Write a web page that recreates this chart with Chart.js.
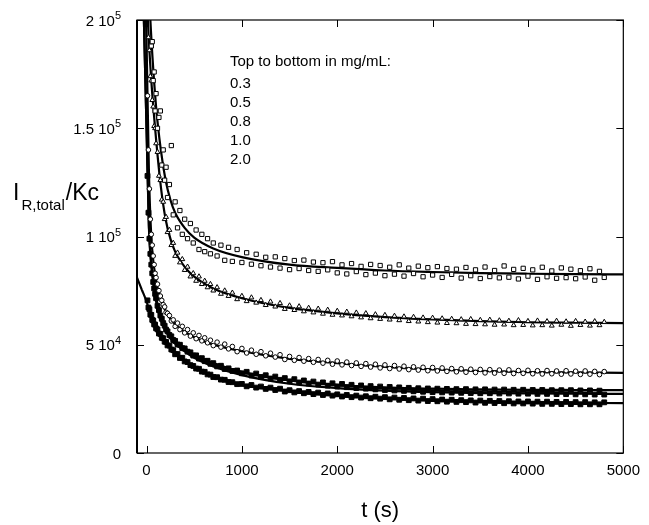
<!DOCTYPE html>
<html>
<head>
<meta charset="utf-8">
<script src="https://cdn.jsdelivr.net/npm/chart.js@4.4.1/dist/chart.umd.min.js"></script>
<style>
  body { margin: 0; background: #fff; }
  #wrap { width: 649px; height: 525px; position: relative; }
</style>
</head>
<body>
<div id="wrap"><canvas id="chart"></canvas></div>
<script>
// values are in units of 1000 (I_R,total/Kc), times in seconds
const xTicks = [0, 1000, 2000, 3000, 4000, 5000];
const yTicks = [0, 50, 100, 150, 200];
// tick label = mantissa + "10" + exponent (exponent drawn raised)
const yTickBase = ['0', '5 10', '1 10', '1.5 10', '2 10'];
const yTickExp = ['', '4', '5', '5', '5'];
const legendLines = ['Top to bottom in mg/mL:', '0.3', '0.5', '0.8', '1.0', '2.0'];

// measurement times shared by all five series
const times = [10, 20, 30, 40, 50, 60, 70, 80, 90, 100, 115, 130, 145, 160, 175, 190, 205, 220,
  240, 260, 280, 300, 325, 350, 375, 400, 430, 460, 490, 520, 550, 580, 610, 640, 670, 700,
  740, 780, 820, 860, 900, 950, 1000,
  1050, 1100, 1150, 1200, 1250, 1300, 1350, 1400, 1450, 1500, 1550, 1600, 1650, 1700, 1750, 1800, 1850, 1900, 1950, 2000,
  2050, 2100, 2150, 2200, 2250, 2300, 2350, 2400, 2450, 2500,
  2550, 2600, 2650, 2700, 2750, 2800, 2850, 2900, 2950, 3000,
  3050, 3100, 3150, 3200, 3250, 3300, 3350, 3400, 3450, 3500,
  3550, 3600, 3650, 3700, 3750, 3800, 3850, 3900, 3950, 4000,
  4050, 4100, 4150, 4200, 4250, 4300, 4350, 4400, 4450, 4500,
  4550, 4600, 4650, 4700, 4750, 4800];

const c03 = [240, 228, 205, 203, 188, 190, 172, 176, 158, 166, 150, 155, 158, 133, 140, 126, 132, 118,
  124, 142, 110, 116, 104, 112, 101, 108, 99, 106, 97, 103, 94, 101, 93, 99, 92, 97,
  91, 96, 89, 95, 88.5, 94, 88,
  92.5, 87.2, 91.8, 86.5, 90.4, 85.9, 90.6, 85.4, 89.8, 84.7, 88.9, 85.2, 89.1, 84.3, 88.2, 83.9, 87.9, 84.6, 88.4, 83.2,
  86.9, 82.7, 87.5, 83.8, 86.2, 82.4, 87.1, 83.1, 86.6, 81.9,
  85.8, 82.6, 86.9, 81.7, 85.4, 82.9, 86.3, 81.4, 85.6, 82.2,
  86.1, 81.1, 85.2, 82.5, 84.9, 80.8, 85.7, 81.9, 84.6, 80.6,
  85.9, 81.5, 84.3, 80.9, 86.4, 81.2, 84.8, 80.4, 85.3, 81.7,
  84.6, 80.2, 85.8, 81.4, 84.1, 80.7, 85.5, 81.0, 84.9, 80.5,
  84.2, 81.3, 85.1, 79.8, 83.9, 81.1];

const c05 = [208, 192, 186, 174, 172, 163, 160, 151, 150, 143, 139, 128, 126, 117, 116, 108, 109, 102,
  103, 96, 97, 91, 92.5, 88, 89.5, 84.5, 86, 81.5, 83, 79.5, 81.5, 78, 79.5, 76.5, 78, 75,
  76.5, 73.5, 75, 72.5, 74, 71, 72.5,
  70.1, 71.8, 69.4, 70.6, 68.3, 69.9, 67.6, 69.2, 66.5, 68.1, 66.0, 67.7, 65.4, 67.0, 64.9, 66.6, 64.3, 66.1, 63.8, 65.6,
  63.5, 65.2, 63.1, 64.8, 62.6, 64.5, 62.2, 64.0, 61.9, 63.7,
  61.6, 63.3, 61.3, 63.0, 60.9, 62.8, 60.7, 62.5, 60.4, 62.4,
  60.2, 62.1, 60.0, 61.9, 59.9, 61.7, 59.6, 61.8, 59.5, 61.4,
  59.4, 61.5, 59.2, 61.2, 59.3, 61.0, 59.0, 61.3, 59.1, 60.9,
  58.9, 61.1, 59.0, 60.8, 58.8, 61.0, 59.2, 60.7, 58.7, 60.9,
  59.1, 60.6, 58.8, 60.8, 59.0, 60.5];

const c08 = [165, 140, 122, 108, 101, 96, 91, 87, 83, 81, 78, 75, 72.5, 70.5, 68.5, 67.5, 65, 64.5,
  63.5, 61, 61.5, 58.5, 60, 57, 58.5, 55.5, 57, 54, 55.5, 52.8, 54.3, 51.8, 53.2, 50.9, 52.1, 49.6,
  51.2, 48.9, 50.3, 48.1, 49.2, 46.8, 48.3,
  46.2, 47.5, 45.6, 46.8, 44.9, 46.1, 44.3, 45.4, 43.2, 44.6, 42.8, 44.1, 42.4, 43.6, 41.9, 43.2, 41.5, 42.8, 41.0, 42.5,
  40.7, 42.0, 40.4, 41.6, 40.0, 41.3, 39.7, 41.0, 39.3, 40.7,
  39.0, 40.4, 38.8, 40.1, 38.5, 39.8, 38.3, 39.6, 38.0, 39.5,
  37.9, 39.3, 37.7, 39.0, 37.5, 38.9, 37.3, 38.7, 37.2, 38.6,
  37.0, 38.5, 36.9, 38.3, 36.8, 38.4, 36.7, 38.1, 36.8, 38.2,
  36.6, 38.0, 36.5, 38.1, 36.6, 37.9, 36.4, 38.0, 36.5, 37.8,
  36.3, 37.9, 36.4, 37.7, 36.2, 37.6];

const c10 = [128, 111, 99, 92, 87, 83, 79, 76, 73.5, 71.5, 68, 66, 63.5, 62, 60, 58.8, 57, 56.2,
  54.5, 53.9, 52.2, 51.8, 50.1, 50.0, 48.4, 48.3, 46.8, 46.5, 45.0, 45.1, 43.6, 43.8, 42.4, 42.6, 41.2, 41.5,
  40.0, 40.3, 38.8, 39.1, 37.9, 38.1, 36.8,
  37.5, 35.8, 36.7, 35.1, 35.9, 34.4, 35.3, 33.8, 34.6, 33.1, 34.1, 32.6, 33.5, 32.1, 33.0, 31.6, 32.6, 31.1, 32.2, 30.7,
  31.9, 30.4, 31.5, 30.0, 31.2, 29.7, 30.9, 29.4, 30.7, 29.1,
  30.5, 28.9, 30.3, 28.7, 30.1, 28.5, 29.9, 28.3, 29.8, 28.1,
  29.7, 28.0, 29.6, 27.9, 29.5, 27.8, 29.5, 27.7, 29.4, 27.6,
  29.4, 27.6, 29.3, 27.5, 29.3, 27.5, 29.2, 27.4, 29.2, 27.4,
  29.1, 27.3, 29.1, 27.3, 29.0, 27.2, 29.0, 27.2, 29.0, 27.1,
  28.9, 27.1, 28.9, 27.0, 28.8, 27.0];

const c20 = [70.5, 67.2, 66.4, 63.9, 63.8, 61.5, 61.2, 59.4, 59.3, 57.6, 57.1, 55.2, 55.0, 53.2, 53.0, 51.4, 51.3, 49.7,
  49.6, 47.8, 47.5, 45.6, 45.7, 43.9, 44.0, 42.3, 42.0, 40.6, 40.2, 39.0, 38.9, 37.6, 37.5, 36.3, 36.2, 35.1,
  35.0, 33.9, 33.8, 32.8, 32.7, 31.8, 31.9,
  30.8, 31.4, 30.2, 30.7, 29.6, 30.2, 29.1, 29.7, 28.4, 29.0, 28.0, 28.6, 27.6, 28.2, 27.2, 27.9, 26.8, 27.5, 26.5, 27.1,
  26.1, 26.8, 25.8, 26.5, 25.6, 26.2, 25.3, 26.0, 25.1, 25.8,
  24.8, 25.6, 24.6, 25.4, 24.4, 25.2, 24.2, 25.1, 24.0, 24.9,
  23.9, 24.7, 23.7, 24.6, 23.6, 24.4, 23.5, 24.3, 23.3, 24.2,
  23.2, 24.1, 23.1, 24.0, 23.0, 23.9, 22.9, 23.8, 22.9, 23.8,
  22.8, 23.7, 22.7, 23.7, 22.7, 23.6, 22.6, 23.6, 22.6, 23.5,
  22.5, 23.5, 22.5, 23.4, 22.5, 23.4];

// fitted curves, read at these times
const fitTimes = [-100, -50, 0, 25, 50, 100, 150, 200, 250, 300, 400, 500, 700, 1000, 1500, 2000, 2500, 3000, 3500, 4000, 4500, 5000];
const fit03 = [500, 350, 250, 215, 192, 160, 140, 126, 117, 111, 104, 99.5, 94.5, 90.5, 87, 85.5, 84.3, 83.6, 83.1, 82.8, 82.6, 82.5];
const fit05 = [420, 300, 215, 190, 172, 145, 123, 108, 99, 93, 86, 81.5, 76, 71.5, 67, 64.5, 62.8, 61.7, 60.9, 60.4, 60.2, 60];
const fit08 = [380, 270, 190, 130, 100, 80, 71, 65.5, 62, 59.5, 56, 53.5, 50, 47, 43.5, 41.5, 39.8, 38.6, 37.9, 37.4, 37.2, 37];
const fit10a = [330, 240, 150, 105, 88, 72, 63, 58, 54.5, 52, 48.5, 45.5, 41.5, 37.5, 33.5, 31.5, 30.3, 29.7, 29.4, 29.2, 29.1, 29];
const fit10b = [330, 240, 150, 104, 86, 70, 61.5, 56.5, 53, 50.5, 47, 44, 40, 36, 32, 30, 28.8, 28.1, 27.7, 27.5, 27.4, 27.3];
const fit20 = [81, 75.5, 70, 66.5, 63.5, 58.5, 54.5, 51.5, 48.5, 46, 42.5, 39.5, 35.5, 31.5, 28.5, 26.5, 25.2, 24.3, 23.8, 23.4, 23.2, 23];

const FONT = '"Liberation Sans", Arial, sans-serif';

function points(vals) {
  return times.map((t, i) => ({ x: t, y: vals[i] }));
}

function scatterSet(vals, style, radius, fill) {
  return {
    data: points(vals),
    pointStyle: style,
    pointRadius: radius,
    borderWidth: 1,
    borderColor: '#000',
    backgroundColor: fill,
    showLine: false
  };
}

function fitSet(vals) {
  return {
    data: fitTimes.map((t, i) => ({ x: t, y: vals[i] })),
    showLine: true,
    pointRadius: 0,
    borderColor: '#000',
    borderWidth: 2.2,
    cubicInterpolationMode: 'monotone',
    fill: false
  };
}

// box, inward ticks, y tick labels with exponents and the free text
const decorations = {
  id: 'decorations',
  afterDraw(chart) {
    const { ctx, chartArea: a, scales } = chart;
    ctx.save();
    ctx.strokeStyle = '#000';
    ctx.lineWidth = 1.2;
    ctx.strokeRect(a.left, a.top, a.right - a.left, a.bottom - a.top);
    ctx.lineWidth = 2;
    ctx.beginPath();
    ctx.moveTo(a.left, a.top);
    ctx.lineTo(a.left, a.bottom);
    ctx.stroke();

    ctx.lineWidth = 1;
    ctx.beginPath();
    for (const v of xTicks) {
      const px = Math.round(scales.x.getPixelForValue(v)) + 0.5;
      ctx.moveTo(px, a.bottom); ctx.lineTo(px, a.bottom - 7);
      ctx.moveTo(px, a.top); ctx.lineTo(px, a.top + 7);
    }
    for (const v of yTicks) {
      const py = Math.round(scales.y.getPixelForValue(v)) + 0.5;
      ctx.moveTo(a.left, py); ctx.lineTo(a.left + 7, py);
      ctx.moveTo(a.right, py); ctx.lineTo(a.right - 7, py);
    }
    ctx.stroke();

    ctx.fillStyle = '#000';
    ctx.textBaseline = 'alphabetic';

    // y tick labels, right aligned at x = 121
    yTicks.forEach((v, i) => {
      const py = scales.y.getPixelForValue(v);
      let right = 121;
      ctx.textAlign = 'right';
      if (yTickExp[i]) {
        ctx.font = '11px ' + FONT;
        ctx.fillText(yTickExp[i], right, py - 1);
        right -= ctx.measureText(yTickExp[i]).width;
      }
      ctx.font = '15px ' + FONT;
      ctx.fillText(yTickBase[i], right, py + 5.5);
    });

    ctx.textAlign = 'left';
    // y axis title: I_R,total/Kc
    let x = 13;
    ctx.font = '23px ' + FONT;
    ctx.fillText('I', x, 200);
    x += ctx.measureText('I').width + 2;
    ctx.font = '15px ' + FONT;
    ctx.fillText('R,total', x, 210);
    x += ctx.measureText('R,total').width + 1;
    ctx.font = '23px ' + FONT;
    ctx.fillText('/Kc', x, 200);

    // x axis title
    ctx.textAlign = 'center';
    ctx.font = '22px ' + FONT;
    ctx.fillText('t (s)', (a.left + a.right) / 2, 517);

    // concentration note
    ctx.textAlign = 'left';
    ctx.font = '15px ' + FONT;
    const baselines = [66, 88, 107, 126, 145, 164];
    legendLines.forEach((s, i) => ctx.fillText(s, 230, baselines[i]));
    ctx.restore();
  }
};

new Chart(document.getElementById('chart'), {
  type: 'scatter',
  data: {
    datasets: [
      scatterSet(c03, 'rect', 3, '#fff'),
      scatterSet(c05, 'triangle', 2.8, '#fff'),
      scatterSet(c08, 'circle', 2.3, '#fff'),
      scatterSet(c10, 'rect', 3.4, '#000'),
      scatterSet(c20, 'rect', 3.4, '#000'),
      fitSet(fit03),
      fitSet(fit05),
      fitSet(fit08),
      fitSet(fit10a),
      fitSet(fit10b),
      fitSet(fit20)
    ]
  },
  options: {
    responsive: true,
    maintainAspectRatio: false,
    animation: false,
    layout: { padding: { left: 0, top: 20, right: 22, bottom: 0 } },
    plugins: { legend: { display: false }, tooltip: { enabled: false } },
    scales: {
      x: {
        type: 'linear',
        min: -100,
        max: 5000,
        grid: { display: false, drawTicks: false },
        border: { display: false },
        afterBuildTicks: s => { s.ticks = xTicks.map(v => ({ value: v })); },
        afterFit: s => { s.height = 72; },
        ticks: {
          color: '#000',
          font: { family: FONT, size: 15 },
          padding: 9,
          maxRotation: 0,
          callback: v => String(v)
        }
      },
      y: {
        type: 'linear',
        min: 0,
        max: 200,
        grid: { display: false, drawTicks: false },
        border: { display: false },
        afterBuildTicks: s => { s.ticks = yTicks.map(v => ({ value: v })); },
        afterFit: s => { s.width = 137; },
        ticks: { display: false }
      }
    }
  },
  plugins: [decorations]
});
</script>
</body>
</html>
